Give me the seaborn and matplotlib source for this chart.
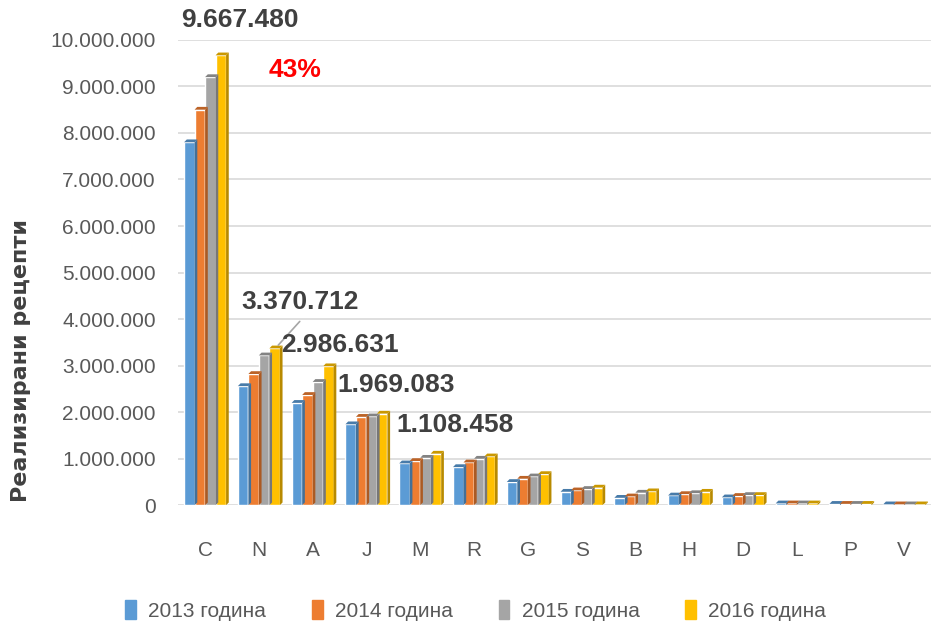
import numpy as np
import pandas as pd
import matplotlib.pyplot as plt
import seaborn as sns
from matplotlib.patches import Polygon
from matplotlib.ticker import FuncFormatter
from matplotlib.colors import to_rgb

categories = ['C', 'N', 'A', 'J', 'M', 'R', 'G', 'S', 'B', 'H', 'D', 'L', 'P', 'V']
series = ['2013 година', '2014 година', '2015 година', '2016 година']
v2013 = [7800000, 2560000, 2200000, 1740000, 900000, 820000, 500000, 290000, 160000, 210000, 170000, 40000, 30000, 20000]
v2014 = [8500000, 2820000, 2370000, 1900000, 950000, 920000, 570000, 320000, 190000, 240000, 200000, 40000, 30000, 20000]
v2015 = [9200000, 3220000, 2650000, 1910000, 1020000, 1000000, 620000, 350000, 270000, 260000, 220000, 40000, 30000, 20000]
v2016 = [9667480, 3370712, 2986631, 1969083, 1108458, 1050000, 670000, 380000, 300000, 290000, 220000, 40000, 30000, 20000]
colors = ['#5B9BD5', '#ED7D31', '#A5A5A5', '#FFC000']

df = pd.DataFrame({
    'cat': categories * 4,
    'year': np.repeat(series, len(categories)),
    'val': v2013 + v2014 + v2015 + v2016,
})

sns.set_style('white')
plt.rcParams['font.family'] = ['Liberation Sans', 'DejaVu Sans']

fig = plt.figure(figsize=(9.33, 6.23), dpi=100)
ax = fig.add_axes([0.191, 0.189, 0.807, 0.747])
sns.barplot(data=df, x='cat', y='val', hue='year', palette=colors,
            width=0.78, gap=0.0, saturation=1, ax=ax, legend=False)

# fake 3D faces for the bars
d, dy = 0.05, 60000
for p in list(ax.patches):
    x, w, h = p.get_x(), p.get_width(), p.get_height()
    c = np.array(to_rgb(p.get_facecolor())) * 0.72
    side = Polygon([(x + w, 0), (x + w + d, dy), (x + w + d, h + dy), (x + w, h)],
                   closed=True, color=c, lw=0, zorder=p.get_zorder())
    top = Polygon([(x, h), (x + d, h + dy), (x + w + d, h + dy), (x + w, h)],
                  closed=True, color=np.clip(c * 1.1, 0, 1), lw=0, zorder=p.get_zorder())
    ax.add_patch(side)
    ax.add_patch(top)

ax.set_xlim(-0.5, 13.5)
ax.set_ylim(0, 10000000)
ax.set_yticks(np.arange(0, 10000001, 1000000))
ax.yaxis.set_major_formatter(FuncFormatter(lambda v, _: f'{int(v):,}'.replace(',', '.')))
ax.grid(axis='y', color='#d9d9d9', lw=1.2)
ax.set_axisbelow(True)
for s in ax.spines.values():
    s.set_visible(False)
ax.tick_params(axis='y', labelsize=15, colors='#595959', length=0, pad=16)
ax.tick_params(axis='x', labelsize=15, colors='#595959', length=0, pad=26)
ax.set_xlabel('')
ax.set_ylabel('Реализирани рецепти', fontsize=16, fontweight='bold', color='#404040',
              family=['DejaVu Sans'])
ax.yaxis.set_label_coords(-0.195, 0.31)

lab = dict(fontsize=19, fontweight='bold', color='#404040', ha='center', va='center', clip_on=False)
ax.text(0.65, 10430000, '9.667.480', **lab)
ax.text(1.77, 4370000, '3.370.712', **lab)
ax.text(2.5, 3440000, '2.986.631', **lab)
ax.text(3.55, 2580000, '1.969.083', **lab)
ax.text(4.65, 1720000, '1.108.458', **lab)
ax.plot([1.76, 1.36], [3950000, 3440000], color='#a6a6a6', lw=1.2)
ax.text(1.67, 9350000, '43%', fontsize=19, fontweight='bold', color='#ff0000',
        ha='center', va='center')

handles = [plt.Rectangle((0, 0), 1, 1, color=c) for c in colors]
fig.legend(handles, series, loc='center', bbox_to_anchor=(0.51, 0.02), ncol=4,
           frameon=False, fontsize=15, handlelength=0.5, handleheight=1.0,
           columnspacing=2.2, handletextpad=0.6, labelcolor='#595959')

fig.savefig('out.png', dpi=100)
